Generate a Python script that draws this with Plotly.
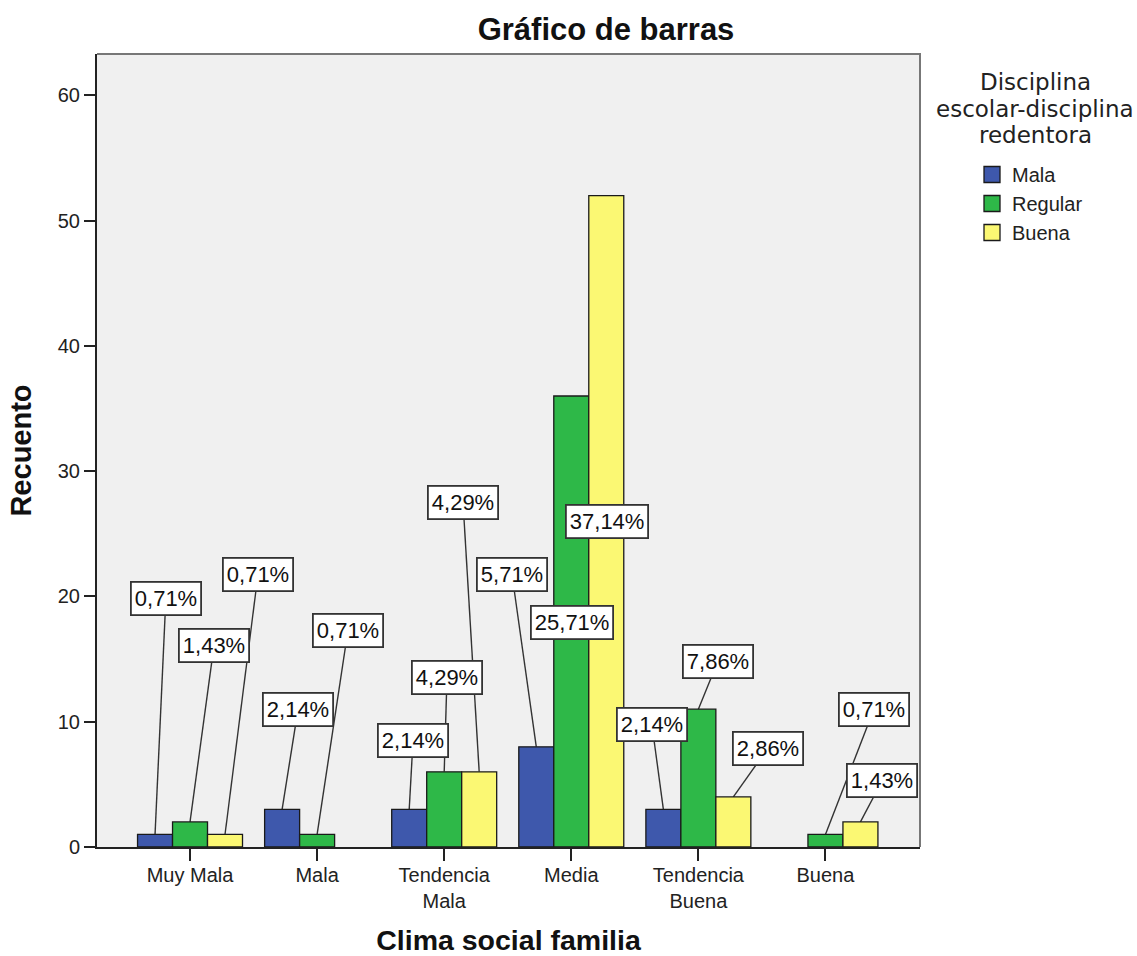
import plotly.graph_objects as go

# ---------------- data ----------------
categories = ["Muy Mala", "Mala", "Tendencia<br>Mala", "Media", "Tendencia<br>Buena", "Buena"]
series_names = ["Mala", "Regular", "Buena"]
counts_mala = [1, 3, 3, 8, 3, 0]
counts_regular = [2, 1, 6, 36, 11, 1]
counts_buena = [1, 0, 6, 52, 4, 2]
total_n = 140
y_ticks = [0, 10, 20, 30, 40, 50, 60]
legend_title_lines = ["Disciplina", "escolar-disciplina", "redentora"]

# label box centres (x in category units, y in count units)
label_x_mala = [-0.19, 0.85, 1.755, 2.533, 3.635, None]
label_y_mala = [19.87, 11.01, 8.54, 21.79, 9.74, None]
label_x_regular = [0.189, 1.243, 2.022, 3.006, 4.154, 5.382]
label_y_regular = [16.12, 17.32, 13.57, 17.96, 14.84, 11.01]
label_x_buena = [0.535, None, 2.148, 3.281, 4.548, 5.445]
label_y_buena = [21.79, None, 27.53, 26.02, 7.90, 5.27]

colors = ["#3E58AC", "#2EB848", "#FBF873"]
BARGAP = 0.174

series_values = [counts_mala, counts_regular, counts_buena]
label_xs = [label_x_mala, label_x_regular, label_x_buena]
label_ys = [label_y_mala, label_y_regular, label_y_buena]

FONT = "Liberation Sans, Arial, sans-serif"

# plot-area geometry in pixels (for paper-coordinate placement)
L, R, T, B = 97, 920, 54, 847
def px_x(px):
    return (px - L) / (R - L)
def px_y(py):
    return (B - py) / (B - T)

fig = go.Figure()
xs = list(range(len(categories)))
for name, vals, col in zip(series_names, series_values, colors):
    fig.add_trace(go.Bar(
        x=xs, y=[v if v > 0 else None for v in vals], name=name,
        legendgroup=name, showlegend=False,
        marker=dict(color=col, line=dict(color="#1a1a1a", width=1.3)),
        hoverinfo="y+name",
    ))
# legend proxies (larger square swatches)
for name, col in zip(series_names, colors):
    fig.add_trace(go.Scatter(
        x=[None], y=[None], mode="markers", name=name, legendgroup=name,
        marker=dict(symbol="square", size=20, color=col, line=dict(color="#1a1a1a", width=1.3)),
    ))

# percentage callouts: leader lines (behind bars) + boxed labels
bw = (1 - BARGAP) / 3
ann = []
shapes = []
for k, (vals, lx, ly) in enumerate(zip(series_values, label_xs, label_ys)):
    for i, v in enumerate(vals):
        if v <= 0 or lx[i] is None:
            continue
        pct = f"{v / total_n * 100:.2f}".replace(".", ",") + "%"
        shapes.append(dict(
            type="line", xref="x", yref="y", x0=i + (k - 1) * bw, y0=v, x1=lx[i], y1=ly[i],
            line=dict(color="#333333", width=1.4), layer="below",
        ))
        ann.append(dict(
            x=lx[i], y=ly[i], xref="x", yref="y", showarrow=False,
            xanchor="center", yanchor="middle",
            text=pct, bgcolor="white", bordercolor="#333333", borderwidth=1.8, borderpad=3,
            font=dict(family=FONT, size=22, color="#111111"),
        ))
ann.sort(key=lambda a: -a["y"])

# legend title (three centred lines)
for line_text, py in zip(legend_title_lines, [82, 109, 135]):
    ann.append(dict(
        x=px_x(1035), y=px_y(py), xref="paper", yref="paper",
        text=line_text, showarrow=False, xanchor="center", yanchor="middle",
        font=dict(family="DejaVu Sans, sans-serif", size=23, color="#222222"),
    ))

shapes.append(dict(type="path", xref="paper", yref="paper", path="M 0,1 L 1,1 L 1,0",
                   line=dict(color="#777777", width=2), layer="above"))

fig.update_layout(
    width=1137, height=956,
    margin=dict(l=L, r=1137 - R, t=T, b=956 - B, autoexpand=False),
    paper_bgcolor="white", plot_bgcolor="#F0F0F0",
    barmode="group", bargap=BARGAP, bargroupgap=0,
    font=dict(family=FONT, size=20, color="#222222"),
    title=dict(text="<b>Gráfico de barras</b>", x=606 / 1137, xref="container", xanchor="center",
               y=1 - 29 / 956, yref="container", yanchor="middle",
               font=dict(family=FONT, size=31, color="#111111")),
    showlegend=True,
    legend=dict(x=px_x(972), y=px_y(155), xanchor="left", yanchor="top",
                font=dict(family=FONT, size=20, color="#222222"),
                bgcolor="rgba(0,0,0,0)", traceorder="normal"),
    annotations=ann,
    shapes=shapes,
)

fig.update_xaxes(
    range=[-0.732, 5.744], tickmode="array", tickvals=xs, ticktext=categories,
    showline=True, linecolor="#222222", linewidth=2, automargin=False,
    ticks="outside", ticklen=12, tickwidth=2, tickcolor="#222222",
    showgrid=False, zeroline=False, ticklabelstandoff=-3,
    tickfont=dict(family=FONT, size=20, color="#222222"),
    title=dict(text="<b>Clima social familia</b>", standoff=24,
               font=dict(family=FONT, size=28.5, color="#111111")),
)
fig.update_yaxes(
    range=[0, 63.3], tickmode="array", tickvals=y_ticks,
    showline=True, linecolor="#222222", linewidth=2, automargin=False,
    ticks="outside", ticklen=11, tickwidth=2, tickcolor="#222222",
    showgrid=False, zeroline=False,
    tickfont=dict(family=FONT, size=20, color="#222222"),
    title=dict(text="<b>Recuento</b>", standoff=18,
               font=dict(family=FONT, size=29, color="#111111")),
)

fig.write_html("out.html", config={"displayModeBar": False},
               post_script="document.body.style.margin='0';")
